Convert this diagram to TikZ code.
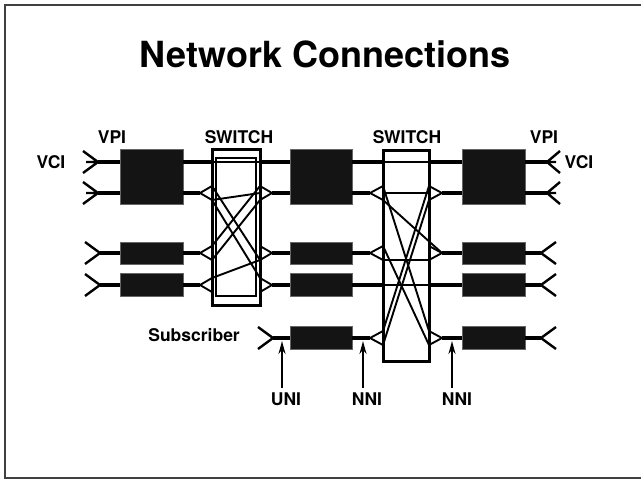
\documentclass[tikz,border=0pt]{standalone}
\usepackage{fontspec}
\setmainfont{TeX Gyre Heros}
\usetikzlibrary{arrows.meta}

\tikzset{
  frame/.style={draw=black!75,line width=1.2pt},
  blk/.style={rectangle,fill=black!92,draw=black!60,line width=0.6pt,inner sep=0pt,outer sep=0pt},
  switchbox/.style={rectangle,draw=black,line width=3pt,inner sep=0pt,outer sep=0pt},
  trunk/.style={line width=4pt},
  wire/.style={line width=1.9pt},
  prong/.style={line width=2.4pt},
  pointer/.style={line width=1.8pt,-{Stealth[length=13pt,width=7pt]},shorten <=4pt},
  lbl/.style={font=\fontsize{17.5}{19}\selectfont\bfseries,inner sep=0pt},
}

\begin{document}
\begin{tikzpicture}[x=1pt,y=-1pt]
\useasboundingbox (0,0) rectangle (641,480);
\draw[frame] (641,5) -- (5,5) -- (5,478) -- (641,478);

\node[font=\fontsize{36}{40}\selectfont\bfseries,anchor=base] (head) at (325,67) {Network Connections};

% rows
\coordinate (r1) at (0,162);
\coordinate (r2) at (0,193);
\coordinate (r3) at (0,253);
\coordinate (r4) at (0,285);
\coordinate (r5) at (0,338);

% VP blocks
\node[blk,minimum width=63pt,minimum height=55pt] (a1) at (151.5,176.5) {};
\node[blk,minimum width=63pt,minimum height=22pt] (a3) at (151.5,253) {};
\node[blk,minimum width=63pt,minimum height=23pt] (a4) at (151.5,285) {};
\node[blk,minimum width=62pt,minimum height=55pt] (b1) at (321,176.5) {};
\node[blk,minimum width=62pt,minimum height=22pt] (b3) at (321,253) {};
\node[blk,minimum width=62pt,minimum height=23pt] (b4) at (321,285) {};
\node[blk,minimum width=62pt,minimum height=23pt] (b5) at (321,338) {};
\node[blk,minimum width=63pt,minimum height=55pt] (c1) at (493.5,176.5) {};
\node[blk,minimum width=63pt,minimum height=22pt] (c3) at (493.5,253) {};
\node[blk,minimum width=63pt,minimum height=23pt] (c4) at (493.5,285) {};
\node[blk,minimum width=63pt,minimum height=23pt] (c5) at (493.5,338) {};

% switches
\node[switchbox,minimum width=48pt,minimum height=156pt] (sw1) at (236,227) {};
\node[switchbox,minimum width=46pt,minimum height=211pt] (sw2) at (406,255.5) {};
\draw[line width=1.5pt] ([shift={(4,9)}]sw1.north west) rectangle ([shift={(-4,-9)}]sw1.south east);

% switch ports: tip, upper end, lower end
\foreach \r/\y in {2/193,3/253,4/285}{
  \coordinate (tl1\r) at (200,\y); \coordinate (ul1\r) at (212,\y-7); \coordinate (dl1\r) at (212,\y+7);
  \coordinate (tr1\r) at (272,\y); \coordinate (ur1\r) at (260,\y-7); \coordinate (dr1\r) at (260,\y+7);
}
\foreach \r/\y in {2/193,3/253,5/338}{
  \coordinate (tl2\r) at (370,\y); \coordinate (ul2\r) at (383,\y-7); \coordinate (dl2\r) at (383,\y+7);
  \coordinate (tr2\r) at (442,\y); \coordinate (ur2\r) at (429,\y-7); \coordinate (dr2\r) at (429,\y+7);
}
\foreach \s/\r in {1/2,1/3,1/4,2/2,2/3,2/5}
  \draw[wire] (ul\s\r) -- (tl\s\r) -- (dl\s\r) (ur\s\r) -- (tr\s\r) -- (dr\s\r);

% crossings in switch 1
\draw[wire] (ul12) -- (dr13);
\draw[wire] (dl12) -- (ur14);
\draw[wire] (dl12) -- (sw1.east |- r2);
\draw[wire] (ur12) -- (ul13);
\draw[wire] (dr12) -- (dl13);
\draw[wire] (ul14) -- (dr13);

% crossings in switch 2
\draw[wire] (dl22) -- (tr23);
\draw[wire] (ul22) -- (ur25);
\draw[wire] (ul23) -- (dr25);
\draw[wire] (ur22) -- (ul25);
\draw[wire] (dr22) -- (dl25);
\draw[wire] (dl23) -- (dr23);
\draw[wire] (sw2.west |- r2) -- (sw2.east |- r2);

% trunks
\draw[trunk] (a1.east |- r1) -- (sw1.west |- r1);
\draw[wire] (sw1.west |- r1) -- (sw1.east |- r1);
\draw[trunk] (sw1.east |- r1) -- (b1.west |- r1);
\draw[trunk] (b1.east |- r1) -- (sw2.west |- r1);
\draw[wire] (sw2.west |- r1) -- (sw2.east |- r1);
\draw[trunk] (sw2.east |- r1) -- (c1.west |- r1);
\draw[trunk] (a1.east |- r2) -- (tl12);
\draw[trunk] (tr12) -- (b1.west |- r2);
\draw[trunk] (b1.east |- r2) -- (tl22);
\draw[trunk] (tr22) -- (c1.west |- r2);
\draw[trunk] (a3) -- (tl13);
\draw[trunk] (tr13) -- (b3);
\draw[trunk] (b3) -- (tl23);
\draw[trunk] (tr23) -- (c3);
\draw[trunk] (a4) -- (tl14);
\draw[trunk] (tr14) -- (b4);
\draw[trunk] (b4) -- (sw2.west |- r4);
\draw[wire] (sw2.west |- r4) -- (sw2.east |- r4);
\draw[trunk] (sw2.east |- r4) -- (c4);
\draw[trunk] (b5) -- (tl25);
\draw[trunk] (tr25) -- (c5);

% VC forks
\coordinate (vl1) at (98,162);
\coordinate (vl2) at (98,193);
\coordinate (vl3) at (100,253);
\coordinate (vl4) at (100,285);
\coordinate (vs5) at (273,338);
\coordinate (vr1) at (547,162);
\coordinate (vr2) at (547,193);
\coordinate (vr3) at (541,253);
\coordinate (vr4) at (541,285);
\coordinate (vr5) at (541,338);
\foreach \j in {vl1,vl2}
  \draw[prong] ([shift={(-15,-11)}]\j) -- (\j) -- ([shift={(-15,11)}]\j) ([shift={(-12,0)}]\j) -- (\j);
\foreach \j in {vl3,vl4,vs5}
  \draw[prong] ([shift={(-15,-11)}]\j) -- (\j) -- ([shift={(-15,11)}]\j);
\foreach \j in {vr1,vr2}
  \draw[prong] ([shift={(13,-11)}]\j) -- (\j) -- ([shift={(13,11)}]\j) ([shift={(9,0)}]\j) -- (\j);
\foreach \j in {vr3,vr4,vr5}
  \draw[prong] ([shift={(15,-11)}]\j) -- (\j) -- ([shift={(15,11)}]\j);
\draw[trunk] (vl1) -- (a1.west |- vl1);
\draw[trunk] (vl2) -- (a1.west |- vl2);
\draw[trunk] (vl3) -- (a3);
\draw[trunk] (vl4) -- (a4);
\draw[trunk] (vs5) -- (b5);
\draw[trunk] (c1.east |- vr1) -- (vr1);
\draw[trunk] (c1.east |- vr2) -- (vr2);
\draw[trunk] (c3) -- (vr3);
\draw[trunk] (c4) -- (vr4);
\draw[trunk] (c5) -- (vr5);

% labels
\node[lbl] (vciL) at (51,162) {VCI};
\node[lbl] (vpiL) at (112,137) {VPI};
\node[lbl] (sw1lbl) at (239,137) {SWITCH};
\node[lbl] (sw2lbl) at (407,137) {SWITCH};
\node[lbl] (vpiR) at (544,137) {VPI};
\node[lbl] (vciR) at (579,162) {VCI};
\node[lbl,anchor=east] (sub) at (240,335) {Subscriber};
\node[lbl] (uni) at (286,399) {UNI};
\node[lbl] (nni1) at (367,399) {NNI};
\node[lbl] (nni2) at (457,399) {NNI};

\coordinate (pUni) at (282,341);
\coordinate (pNni1) at (363,341);
\coordinate (pNni2) at (452,341);
\draw[pointer] (pUni |- uni.north) -- (pUni);
\draw[pointer] (pNni1 |- nni1.north) -- (pNni1);
\draw[pointer] (pNni2 |- nni2.north) -- (pNni2);

\end{tikzpicture}
\end{document}
